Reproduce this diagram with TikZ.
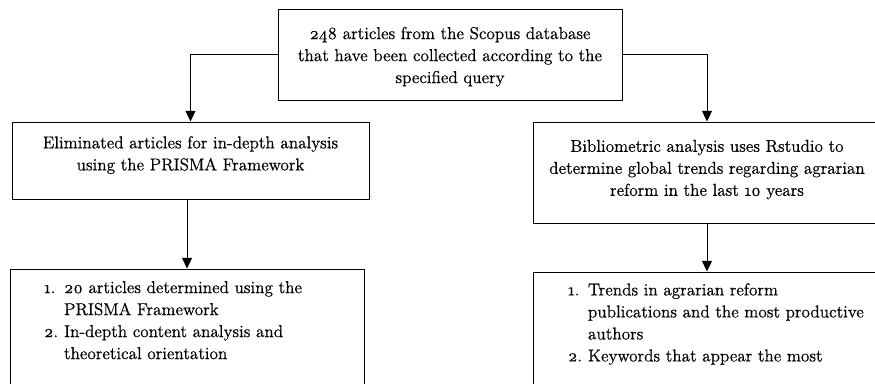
\documentclass[tikz,border=0pt]{standalone}
\usepackage{fontspec}
\setmainfont{Latin Modern Roman}[Numbers=OldStyle,FakeBold=0.6]
\usetikzlibrary{
  arrows.meta,
  positioning,
}
\tikzset{
  box/.style={rectangle,draw,line width=0.75pt,inner sep=0pt,font=\fontsize{12.9}{16.5}\selectfont},
  flow/.style={-{Triangle[width=7.5pt,length=8pt]},line width=0.75pt},
}
\newcommand{\boxtext}[3]{\parbox[c][#2][t]{#1}{#3}}
\newcommand{\pad}[1]{\vspace*{#1}\strut}

\begin{document}
\begin{tikzpicture}[x=0.75pt,y=-0.75pt,node distance=0mm and 0mm]
      \useasboundingbox (0,0) rectangle (875,383);
      \clip (0,0) rectangle (875,383);

      \node[box] (src) at (450,54.5) {\boxtext{258pt}{68.25pt}{\centering\pad{11pt}248 articles from the Scopus database\\ that have been collected according to the\\ specified query}};

      \node[box] (elim) at (190.5,160.5) {\boxtext{267.75pt}{57.75pt}{\centering\pad{8.2pt}Eliminated articles for in-depth analysis\\ using the PRISMA Framework}};
      \node[box] (biblio) at (707,172.5) {\boxtext{261pt}{75.75pt}{\centering\pad{10.8pt}Bibliometric analysis uses Rstudio to\\ determine global trends regarding agrarian\\ reform in the last 10 years}};

      \node[box,xshift=-2.6pt] (res1) [below=51.75pt of elim] {\boxtext{265.5pt}{86.25pt}{\raggedright\pad{6.5pt}\hspace*{25.5pt}\makebox[15pt][l]{1.}20 articles determined using the\\
        \hspace*{40.5pt}PRISMA Framework\\
        \hspace*{25.5pt}\makebox[15pt][l]{2.}In-depth content analysis and\\
        \hspace*{40.5pt}theoretical orientation}};
      \node[box] (res2) [below=36pt of biblio] {\boxtext{261pt}{96.75pt}{\raggedright\pad{6pt}\hspace*{26.25pt}\makebox[15pt][l]{1.}Trends in agrarian reform\\
        \hspace*{41.25pt}publications and the most productive\\
        \hspace*{41.25pt}authors\\
        \hspace*{26.25pt}\makebox[15pt][l]{2.}Keywords that appear the most}};

      \draw[flow] (src.west) -| (elim.north);
      \draw[flow] (src.east) -| (biblio.north);
      \draw[flow] (elim.south -| res1.north) -- (res1.north);
      \draw[flow] (biblio.south) -- (res2.north);

    \end{tikzpicture}
\end{document}
